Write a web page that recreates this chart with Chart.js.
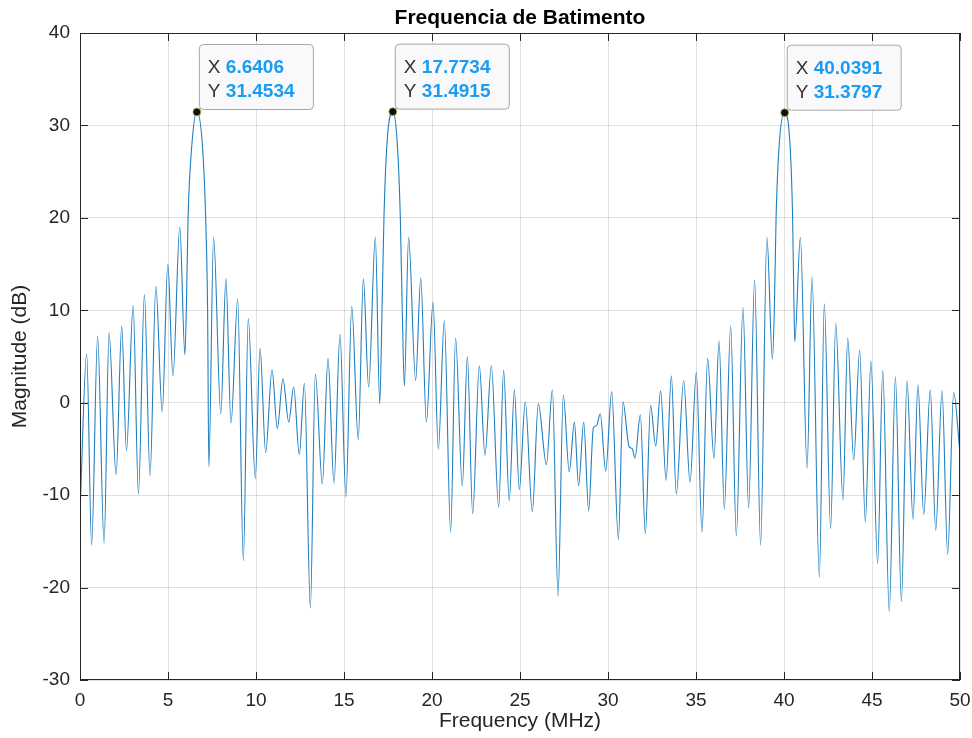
<!DOCTYPE html>
<html>
<head>
<meta charset="utf-8">
<title>Frequencia de Batimento</title>
<script src="https://cdn.jsdelivr.net/npm/chart.js@4/dist/chart.umd.min.js"></script>
<style>
  html, body { margin: 0; padding: 0; background: #fff; }
  #wrap { width: 972px; height: 738px; }
</style>
</head>
<body>
<div id="wrap"><canvas id="beatChart" width="972" height="738"></canvas></div>
<script>
// spectrum (peaks, nulls and a few points on the main lobes)
var freq = [
  0.00, 0.38, 0.66, 1.00, 1.37, 1.65, 2.05, 2.37, 2.64, 3.02,
  3.32, 3.66, 3.98, 4.31, 4.67, 4.99, 5.28, 5.67, 5.96, 6.04,
  6.14, 6.36, 6.6406, 6.95, 7.14, 7.25, 7.32, 7.59, 8.00, 8.29,
  8.58, 8.96, 9.28, 9.56, 9.96, 10.23, 10.55, 10.91, 11.21, 11.53,
  11.86, 12.14, 12.46, 12.75, 13.09, 13.37, 13.77, 14.09, 14.43, 14.77,
  15.11, 15.44, 15.81, 16.10, 16.40, 16.78, 17.03, 17.16, 17.27, 17.44,
  17.7734, 18.03, 18.20, 18.31, 18.43, 18.67, 19.07, 19.36, 19.68, 20.06,
  20.36, 20.70, 21.06, 21.34, 21.72, 22.01, 22.31, 22.69, 23.01, 23.37,
  23.79, 24.07, 24.39, 24.68, 24.96, 25.30, 25.70, 26.04, 26.50, 26.84,
  27.16, 27.46, 27.80, 28.09, 28.33, 28.62, 28.90, 29.17, 29.34, 29.56,
  29.87, 30.21, 30.59, 30.85, 31.19, 31.38, 31.53, 31.84, 32.12, 32.42,
  32.71, 32.99, 33.30, 33.60, 33.88, 34.30, 34.66, 35.02, 35.34, 35.66,
  36.02, 36.31, 36.61, 36.97, 37.29, 37.67, 37.99, 38.33, 38.67, 39.03,
  39.34, 39.45, 39.55, 39.73, 40.0391, 40.34, 40.49, 40.57, 40.61, 40.93,
  41.31, 41.59, 42.01, 42.29, 42.65, 42.94, 43.35, 43.62, 43.96, 44.30,
  44.62, 44.94, 45.32, 45.61, 45.98, 46.33, 46.67, 46.99, 47.33, 47.61,
  47.94, 48.31, 48.62, 48.98, 49.30, 49.64, 50.00
];
var magDb = [
  -12.0, 5.3, -15.4, 7.2, -15.2, 7.6, -7.8, 8.3, -5.2, 10.5,
  -9.9, 11.7, -7.9, 12.6, -1.0, 15.0, 2.9, 19.0, 5.2, 10.0,
  20.0, 28.0, 31.4534, 28.0, 20.0, 10.0, -6.9, 17.9, -1.2, 13.4,
  -2.2, 11.2, -17.1, 9.1, -8.2, 5.9, -5.4, 3.6, -2.8, 2.6,
  -2.1, 1.7, -5.6, 2.1, -22.2, 3.1, -8.8, 4.8, -8.7, 7.4,
  -10.2, 10.4, -4.0, 13.4, 1.7, 17.9, -0.1, 10.0, 20.0, 28.0,
  31.4915, 28.0, 20.0, 10.0, 1.8, 17.9, 2.4, 13.5, -2.1, 10.9,
  -5.0, 8.9, -14.0, 7.0, -9.0, 5.0, -12.0, 4.0, -5.7, 4.0,
  -11.3, 3.5, -10.6, 1.4, -9.4, 0.1, -11.8, -0.1, -6.7, 1.4,
  -20.9, 0.8, -7.5, -2.1, -9.0, -2.1, -11.7, -2.7, -2.5, -1.2,
  -7.4, 1.2, -14.8, 0.1, -4.7, -5.0, -6.0, -1.3, -14.2, -0.3,
  -4.7, 1.3, -8.4, 2.9, -9.9, 2.4, -8.6, 3.3, -14.0, 4.8,
  -6.0, 6.7, -11.5, 8.3, -14.4, 10.3, -11.4, 13.3, -15.4, 17.9,
  4.7, 10.0, 20.0, 28.0, 31.3797, 28.0, 20.0, 10.0, 6.6, 17.9,
  -7.1, 13.6, -18.9, 10.7, -13.6, 8.6, -10.5, 7.0, -6.2, 5.7,
  -12.9, 4.5, -17.4, 3.5, -22.6, 2.8, -21.5, 2.4, -12.6, 1.9,
  -12.1, 1.4, -13.8, 1.3, -16.4, 1.1, -5.5
];

// data tips shown on the three beat peaks
var tipX = [6.6406, 17.7734, 40.0391];
var tipY = [31.4534, 31.4915, 31.3797];

var xTicks = [0, 5, 10, 15, 20, 25, 30, 35, 40, 45, 50];
var yTicks = [-30, -20, -10, 0, 10, 20, 30, 40];

var FONT = 'Helvetica, "Liberation Sans", Arial, sans-serif';
var INK = '#262626';

var points = freq.map(function(f, i) { return { x: f, y: magDb[i] }; });

// frame, inward ticks, title and the data tips (MATLAB look)
var matlabDecor = {
    id: 'matlabDecor',
    afterDatasetsDraw: function(chart) {
        var ctx = chart.ctx;
        var a = chart.chartArea;
        var xs = chart.scales.x, ys = chart.scales.y;
        ctx.save();

        // box
        ctx.strokeStyle = INK;
        ctx.lineWidth = 1;
        ctx.strokeRect(a.left + 0.5, a.top + 0.5, a.right - a.left - 1, a.bottom - a.top - 1);

        // tick marks pointing inwards on all four sides
        ctx.beginPath();
        xTicks.forEach(function(t) {
            var px = Math.round(xs.getPixelForValue(t)) + 0.5;
            ctx.moveTo(px, a.bottom); ctx.lineTo(px, a.bottom - 8);
            ctx.moveTo(px, a.top); ctx.lineTo(px, a.top + 8);
        });
        yTicks.forEach(function(t) {
            var py = Math.round(ys.getPixelForValue(t)) + 0.5;
            ctx.moveTo(a.left, py); ctx.lineTo(a.left + 8, py);
            ctx.moveTo(a.right, py); ctx.lineTo(a.right - 8, py);
        });
        ctx.stroke();

        // title
        ctx.fillStyle = '#000';
        ctx.font = 'bold 21px ' + FONT;
        ctx.textAlign = 'center';
        ctx.textBaseline = 'middle';
        ctx.fillText('Frequencia de Batimento', (a.left + a.right) / 2, 18);

        // data tips
        for (var i = 0; i < tipX.length; i++) {
            var dx = xs.getPixelForValue(tipX[i]);
            var dy = ys.getPixelForValue(tipY[i]);
            var bx = dx + 2, by = dy - 68, bw = 114, bh = 65;

            ctx.beginPath();
            ctx.roundRect(bx + 0.5, by + 0.5, bw, bh, 4);
            ctx.fillStyle = 'rgba(249,249,251,0.96)';
            ctx.fill();
            ctx.strokeStyle = '#a6a6a6';
            ctx.lineWidth = 1;
            ctx.stroke();

            ctx.textAlign = 'left';
            ctx.textBaseline = 'alphabetic';
            ctx.font = '19px ' + FONT;
            ctx.fillStyle = '#333';
            ctx.fillText('X', bx + 9, by + 29);
            ctx.fillText('Y', bx + 9, by + 53);
            ctx.font = 'bold 19px ' + FONT;
            ctx.fillStyle = '#1a9cf2';
            ctx.fillText(tipX[i].toFixed(4), bx + 27, by + 29);
            ctx.fillText(tipY[i].toFixed(4), bx + 27, by + 53);

            ctx.beginPath();
            ctx.arc(dx, dy, 4, 0, Math.PI * 2);
            ctx.fillStyle = '#111';
            ctx.fill();
            ctx.strokeStyle = '#c8c060';
            ctx.lineWidth = 0.8;
            ctx.stroke();
        }
        ctx.restore();
    }
};

new Chart(document.getElementById('beatChart').getContext('2d'), {
    type: 'line',
    data: {
        datasets: [{
            label: 'Magnitude',
            data: points,
            borderColor: '#1f7fc0',
            borderWidth: 1.1,
            pointRadius: 0,
            fill: false,
            cubicInterpolationMode: 'monotone'
        }]
    },
    options: {
        responsive: false,
        animation: false,
        layout: { padding: { top: 33, right: 12, bottom: 0, left: 0 } },
        plugins: {
            legend: { display: false },
            tooltip: { enabled: false },
            title: { display: false }
        },
        scales: {
            x: {
                type: 'linear',
                min: 0, max: 50,
                afterFit: function(s) { s.height = 58; s.paddingLeft = 0; s.paddingRight = 0; },
                afterBuildTicks: function(s) { s.ticks = xTicks.map(function(v) { return { value: v }; }); },
                grid: { color: 'rgba(38,38,38,0.14)', drawTicks: false },
                border: { display: false },
                ticks: { color: INK, padding: 9, maxRotation: 0, font: { family: FONT, size: 19 } },
                title: { display: true, text: 'Frequency (MHz)', color: INK, padding: { top: 0, bottom: 4 }, font: { family: FONT, size: 21 } }
            },
            y: {
                min: -30, max: 40,
                afterFit: function(s) { s.width = 80; s.paddingTop = 0; s.paddingBottom = 0; },
                afterBuildTicks: function(s) { s.ticks = yTicks.map(function(v) { return { value: v }; }); },
                grid: { color: 'rgba(38,38,38,0.14)', drawTicks: false },
                border: { display: false },
                ticks: { color: INK, padding: 10, font: { family: FONT, size: 19 } },
                title: { display: true, text: 'Magnitude (dB)', color: INK, padding: { top: 8, bottom: 0 }, font: { family: FONT, size: 21 } }
            }
        }
    },
    plugins: [matlabDecor]
});
</script>
</body>
</html>
